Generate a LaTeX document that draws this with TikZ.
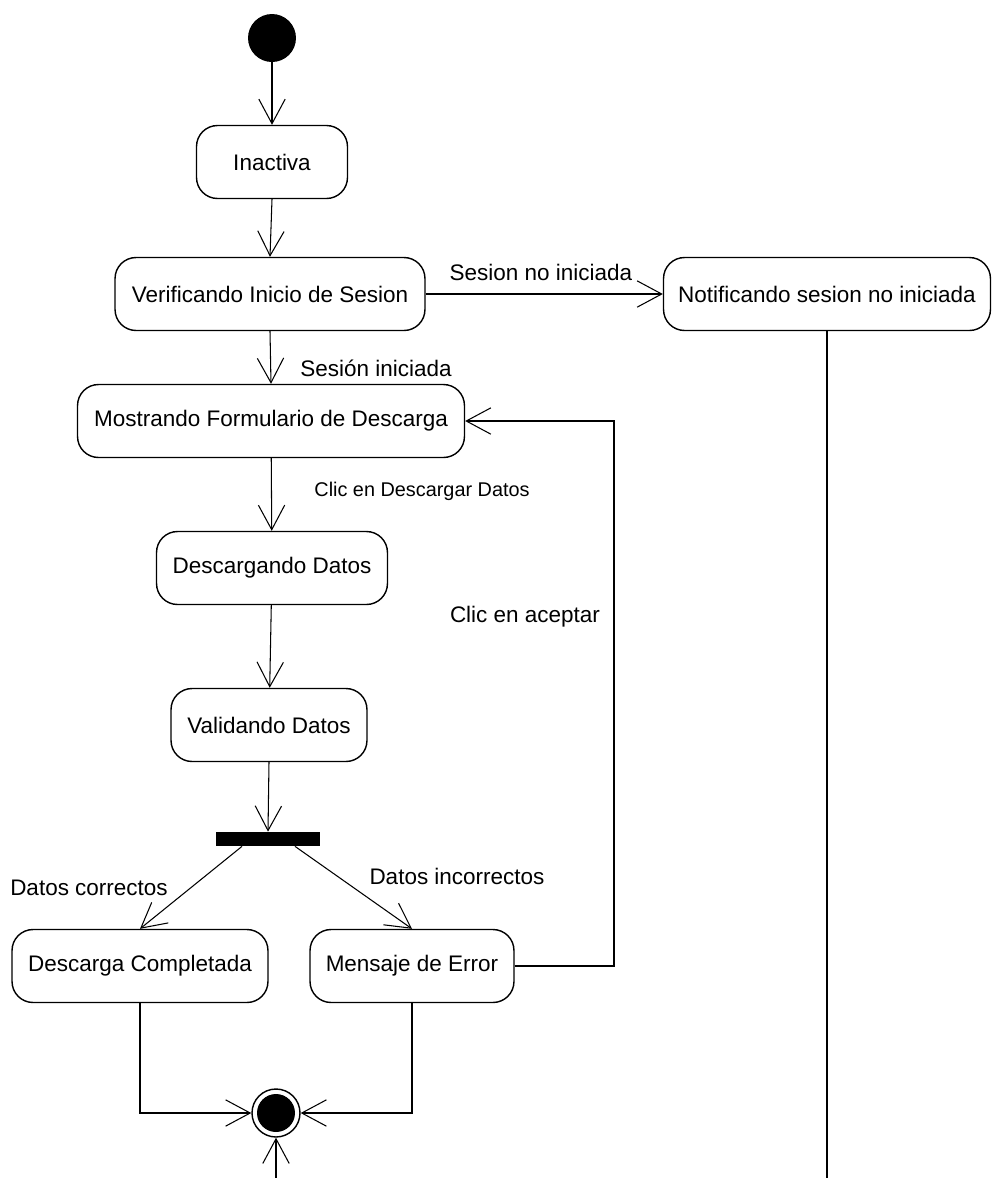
\documentclass[tikz,border=0pt]{standalone}
\usepackage{fontspec}
\setmainfont{Liberation Sans}
\usetikzlibrary{arrows.meta, positioning}

\begin{document}
\begin{tikzpicture}[
  x=0.02cm, y=-0.02cm,
  box/.style={draw, rounded corners=0.42cm, line width=0.8pt, minimum height=1.46cm, inner xsep=2pt, font=\fontsize{12.8}{15}\selectfont},
  arrow/.style={-{Straight Barb[length=14pt, width=15pt]}, line width=0.6pt},
  lbl/.style={font=\fontsize{12.8}{15}\selectfont},
  small/.style={font=\fontsize{11.3}{13}\selectfont}
]
\useasboundingbox (0,0) rectangle (992,1178);

% Nodes
\node[circle, fill, minimum size=0.96cm, inner sep=0pt] (start) at (272,38) {};
\node[box, minimum width=3.02cm] (inact) at (272,162) {Inactiva};
\node[box, minimum width=6.2cm] (verif) at (270,294) {Verificando Inicio de Sesion};
\node[box, minimum width=6.54cm] (notif) at (827,294) {Notificando sesion no iniciada};
\node[box, minimum width=7.74cm] (mostr) at (271,421) {Mostrando Formulario de Descarga};
\node[box, minimum width=4.62cm] (desc) at (272,568) {Descargando Datos};
\node[box, minimum width=3.92cm] (valid) at (269,725) {Validando Datos};
\node[fill, minimum width=2.08cm, minimum height=0.28cm, inner sep=0pt] (bar) at (268,839) {};
\node[box, minimum width=5.12cm] (compl) at (140,966) {Descarga Completada};
\node[box, minimum width=4.08cm] (error) at (412,966) {Mensaje de Error};
\node[circle, draw, line width=0.8pt, minimum size=0.96cm, inner sep=0pt] (final) at (276,1113) {};
\fill (final.center) circle (0.38cm);

\coordinate (loop) at (614,421);
\coordinate (bot) at (276,1178);
\coordinate (notifend) at (827,1178);

% Labels
\node[lbl] (l1) at (541,272) {Sesion no iniciada};
\node[lbl] (l2) at (376,368) {Sesión iniciada};
\node[small] (l3) at (422,491) {Clic en Descargar Datos};
\node[lbl] (l4) at (525,617) {Clic en aceptar};
\node[lbl] (l5) at (89,888) {Datos correctos};
\node[lbl] (l6) at (457,876) {Datos incorrectos};

% Pointers
\draw[arrow] (start) -- (inact);
\draw[arrow] (inact.south) -- (verif.north);
\draw[arrow] (verif) -- (notif);
\draw[arrow] (verif.south) -- (mostr.north);
\draw[arrow] (mostr) -- (desc);
\draw[arrow] (desc) -- (valid);
\draw[arrow] (valid.south) -- (bar.north);
\draw[arrow] ([xshift=-0.52cm]bar.south) -- (compl.north);
\draw[arrow] ([xshift=0.54cm]bar.south) -- (error.north);
\draw[arrow] (error.east) -| (loop) -- (mostr.east);
\draw[arrow] (compl.south) |- (final.west);
\draw[arrow] (error.south) |- (final.east);
\draw[arrow] (bot) -- (final.south);
\draw[line width=0.6pt] (notif.south) -- (notifend);

\end{tikzpicture}
\end{document}
